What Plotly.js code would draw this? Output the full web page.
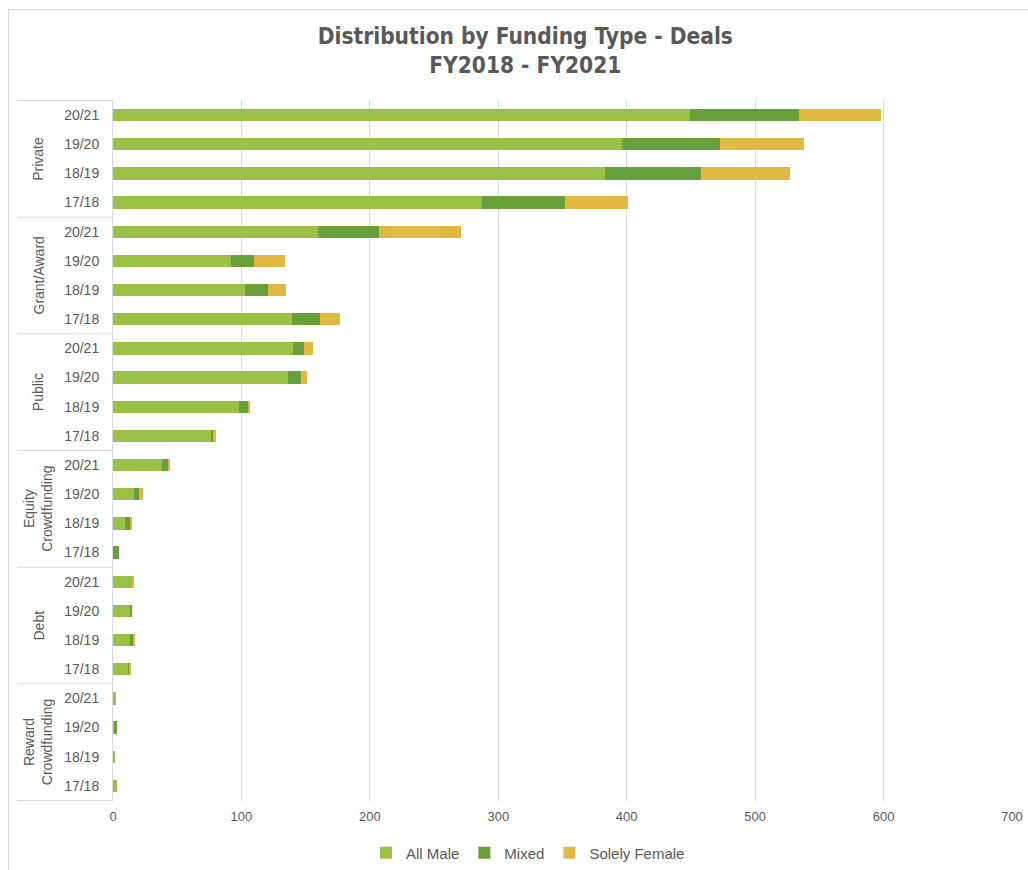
<!DOCTYPE html>
<html><head><meta charset="utf-8">
<script src="https://cdn.plot.ly/plotly-3.0.1.min.js"></script>
<style>
html,body{margin:0;padding:0;background:#fff;overflow:hidden}
#chart{width:1028px;height:870px}
#frame{position:absolute;left:8px;top:9px;width:1100px;height:1000px;border:1px solid #d9d9d9;pointer-events:none}
</style></head><body>
<div id="chart"></div><div id="frame"></div>
<script>
// Data
const fundingTypes = ["Private", "Grant/Award", "Public", "Equity<br>Crowdfunding", "Debt", "Reward<br>Crowdfunding"];
const fiscalYears = ["20/21", "19/20", "18/19", "17/18"];
const seriesNames = ["All Male", "Mixed", "Solely Female"];
const allMale      = [449, 396, 383, 287,  160, 92, 103, 139,  140, 136, 98, 77,  38, 16, 9, 0,  15, 13, 13, 12,  2, 1, 1.5, 3];
const mixed        = [85, 77, 75, 65,      47, 18, 18, 22,     9, 10, 7, 1,       5, 4, 4, 5,   0, 2, 3, 1,     0, 2, 0, 0];
const solelyFemale = [64, 65, 69, 49,      64, 24, 14, 16,     7, 5, 2, 2,        1, 3, 2, 0,   1, 0, 1, 1,     0, 0, 0, 0];
const seriesColors = ["#9BC046", "#689F3A", "#E0B844"];

// Build category ids
const catIds = [], catText = [];
fundingTypes.forEach((g, gi) => fiscalYears.forEach(y => { catIds.push(gi + "|" + y); catText.push(y); }));

const values = [allMale, mixed, solelyFemale];
const traces = values.map((v, i) => ({
  type: "bar", orientation: "h", name: seriesNames[i],
  x: v, y: catIds, width: 0.42,
  marker: {color: seriesColors[i], line: {width: 0}},
  hoverinfo: "x+name"
}));

const plotL = 113, plotR = 1012;
const pw = plotR - plotL;
const labelLeft = 17;
const shapes = [], annotations = [];
for (let g = 0; g <= fundingTypes.length; g++) {
  const yb = g * fiscalYears.length - 0.5;
  shapes.push({type: "line", xref: "paper", yref: "y", x0: (labelLeft - plotL) / pw, x1: 0, y0: yb, y1: yb,
    line: {color: "#d9d9d9", width: 1}});
}
fundingTypes.forEach((g, gi) => {
  annotations.push({xref: "paper", yref: "y", x: (38 - plotL) / pw, y: gi * fiscalYears.length + (fiscalYears.length - 1) / 2,
    text: g, textangle: -90, showarrow: false, xanchor: "center", yanchor: "middle",
    font: {family: "Liberation Sans, Arial, sans-serif", size: 14, color: "#595959"}});
});

const layout = {
  width: 1028, height: 870,
  margin: {l: plotL, r: 1028 - plotR, t: 100, b: 69, autoexpand: false},
  paper_bgcolor: "#fff", plot_bgcolor: "#fff",
  barmode: "stack", bargap: 0.58,
  title: {text: "Distribution by Funding Type - Deals<br>FY2018 - FY2021",
    font: {family: "DejaVu Sans Condensed, DejaVu Sans, sans-serif", size: 22.5, weight: "bold", color: "#595959"},
    xref: "container", yref: "container", x: 0.511, xanchor: "center", y: 1 - 44 / 870, yanchor: "top"},
  xaxis: {range: [0, 700], dtick: 100, tick0: 0, showgrid: true, gridcolor: "#d9d9d9", gridwidth: 1,
    zeroline: false, showline: false, ticks: "", ticklabelstandoff: 6,
    tickfont: {family: "Liberation Sans, Arial, sans-serif", size: 13, color: "#595959"}, fixedrange: true},
  yaxis: {type: "category", categoryorder: "array", categoryarray: catIds, tickvals: catIds, ticktext: catText,
    autorange: "reversed", showline: true, linecolor: "#d9d9d9", linewidth: 1, showgrid: false, ticks: "",
    ticklabelstandoff: 10,
    tickfont: {family: "Liberation Sans, Arial, sans-serif", size: 14, color: "#595959"}, fixedrange: true},
  legend: {orientation: "h", xref: "container", x: 528 / 1028, xanchor: "center",
    yref: "container", y: (870 - 853) / 870, yanchor: "middle",
    font: {family: "Liberation Sans, Arial, sans-serif", size: 15, color: "#595959"}, itemwidth: 30, traceorder: "normal"},
  shapes: shapes, annotations: annotations
};

Plotly.newPlot("chart", traces, layout, {displayModeBar: false, responsive: false});
</script>
</body></html>
